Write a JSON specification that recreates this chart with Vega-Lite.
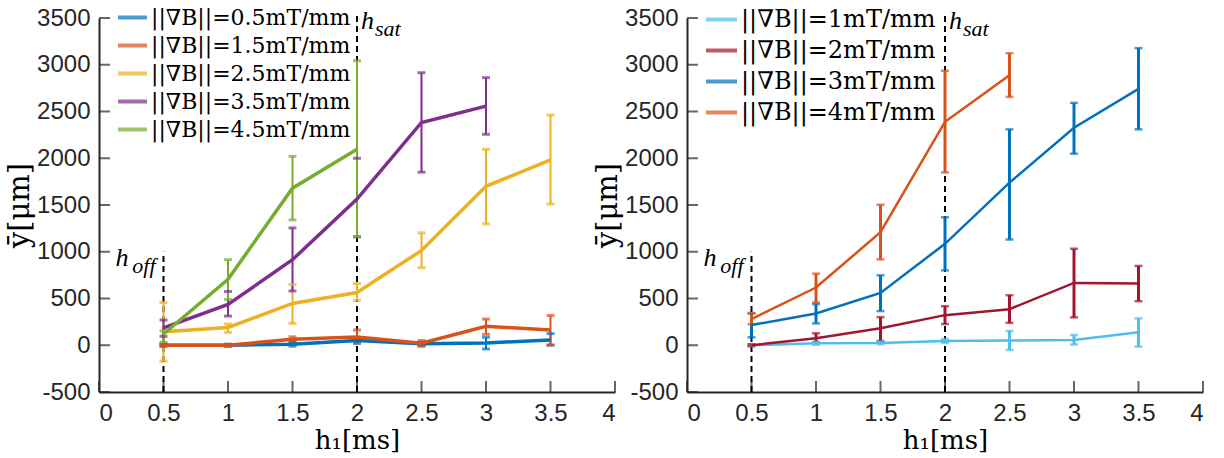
{
  "$schema": "https://vega.github.io/schema/vega-lite/v6.json",
  "padding": {"left": 5, "top": 1, "right": 5, "bottom": 5},
  "background": "white",
  "config": {
    "view": {"stroke": null},
    "axis": {
      "domainColor": "#262626", "domainWidth": 2, "tickColor": "#262626", "tickWidth": 2,
      "tickSize": 0, "labelPadding": 9, "labelFont": "Liberation Sans", "labelFontSize": 24,
      "labelColor": "#262626", "grid": false, "titleFont": "DejaVu Serif", "titleFontSize": 26,
      "titleFontWeight": "normal", "titleColor": "#000000"
    },
    "legend": {
      "orient": "none", "symbolType": "stroke", "symbolStrokeWidth": 4, "symbolSize": 841,
      "labelFont": "DejaVu Serif", "labelFontSize": 22, "labelColor": "#000000", "rowPadding": 0,
      "labelLimit": 400, "labelOffset": 2, "title": null
    }
  },
  "datasets": {
    "left": [
      {"s": "0.5", "x": 0.5, "y": 0, "lo": -10, "hi": 10},
      {"s": "0.5", "x": 1, "y": 0, "lo": -10, "hi": 10},
      {"s": "0.5", "x": 1.5, "y": 10, "lo": -10, "hi": 30},
      {"s": "0.5", "x": 2, "y": 50, "lo": 20, "hi": 80},
      {"s": "0.5", "x": 2.5, "y": 15, "lo": -5, "hi": 35},
      {"s": "0.5", "x": 3, "y": 25, "lo": -40, "hi": 85},
      {"s": "0.5", "x": 3.5, "y": 55, "lo": 0, "hi": 125},
      {"s": "1.5", "x": 0.5, "y": 0, "lo": -10, "hi": 10},
      {"s": "1.5", "x": 1, "y": 0, "lo": -10, "hi": 10},
      {"s": "1.5", "x": 1.5, "y": 64, "lo": 40, "hi": 90},
      {"s": "1.5", "x": 2, "y": 88, "lo": 25, "hi": 163},
      {"s": "1.5", "x": 2.5, "y": 21, "lo": -10, "hi": 50},
      {"s": "1.5", "x": 3, "y": 202, "lo": 117, "hi": 280},
      {"s": "1.5", "x": 3.5, "y": 163, "lo": 3, "hi": 319},
      {"s": "2.5", "x": 0.5, "y": 145, "lo": -170, "hi": 458},
      {"s": "2.5", "x": 1, "y": 190, "lo": 138, "hi": 227},
      {"s": "2.5", "x": 1.5, "y": 447, "lo": 234, "hi": 650},
      {"s": "2.5", "x": 2, "y": 564, "lo": 480, "hi": 660},
      {"s": "2.5", "x": 2.5, "y": 1014, "lo": 830, "hi": 1202},
      {"s": "2.5", "x": 3, "y": 1700, "lo": 1298, "hi": 2096},
      {"s": "2.5", "x": 3.5, "y": 1982, "lo": 1511, "hi": 2461},
      {"s": "3.5", "x": 0.5, "y": 185, "lo": 96, "hi": 270},
      {"s": "3.5", "x": 1, "y": 436, "lo": 312, "hi": 575},
      {"s": "3.5", "x": 1.5, "y": 915, "lo": 580, "hi": 1255},
      {"s": "3.5", "x": 2, "y": 1564, "lo": 1160, "hi": 2000},
      {"s": "3.5", "x": 2.5, "y": 2383, "lo": 1851, "hi": 2915},
      {"s": "3.5", "x": 3, "y": 2557, "lo": 2256, "hi": 2862},
      {"s": "4.5", "x": 0.5, "y": 120, "lo": 32, "hi": 152},
      {"s": "4.5", "x": 1, "y": 705, "lo": 490, "hi": 915},
      {"s": "4.5", "x": 1.5, "y": 1680, "lo": 1340, "hi": 2020},
      {"s": "4.5", "x": 2, "y": 2096, "lo": 1160, "hi": 3043}
    ],
    "right": [
      {"s": "1", "x": 0.5, "y": 0, "lo": -10, "hi": 10},
      {"s": "1", "x": 1, "y": 21, "lo": 5, "hi": 37},
      {"s": "1", "x": 1.5, "y": 25, "lo": 10, "hi": 40},
      {"s": "1", "x": 2, "y": 46, "lo": 25, "hi": 67},
      {"s": "1", "x": 2.5, "y": 50, "lo": -50, "hi": 152},
      {"s": "1", "x": 3, "y": 57, "lo": 7, "hi": 110},
      {"s": "1", "x": 3.5, "y": 138, "lo": -14, "hi": 287},
      {"s": "2", "x": 0.5, "y": 0, "lo": -10, "hi": 10},
      {"s": "2", "x": 1, "y": 75, "lo": 32, "hi": 128},
      {"s": "2", "x": 1.5, "y": 181, "lo": 46, "hi": 301},
      {"s": "2", "x": 2, "y": 322, "lo": 227, "hi": 418},
      {"s": "2", "x": 2.5, "y": 386, "lo": 240, "hi": 535},
      {"s": "2", "x": 3, "y": 667, "lo": 298, "hi": 1032},
      {"s": "2", "x": 3.5, "y": 660, "lo": 471, "hi": 848},
      {"s": "3", "x": 0.5, "y": 216, "lo": 85, "hi": 340},
      {"s": "3", "x": 1, "y": 340, "lo": 234, "hi": 440},
      {"s": "3", "x": 1.5, "y": 560, "lo": 365, "hi": 748},
      {"s": "3", "x": 2, "y": 1085, "lo": 801, "hi": 1369},
      {"s": "3", "x": 2.5, "y": 1740, "lo": 1131, "hi": 2309},
      {"s": "3", "x": 3, "y": 2326, "lo": 2049, "hi": 2592},
      {"s": "3", "x": 3.5, "y": 2742, "lo": 2309, "hi": 3178},
      {"s": "4", "x": 0.5, "y": 280, "lo": 225, "hi": 345},
      {"s": "4", "x": 1, "y": 617, "lo": 457, "hi": 766},
      {"s": "4", "x": 1.5, "y": 1209, "lo": 918, "hi": 1503},
      {"s": "4", "x": 2, "y": 2390, "lo": 1848, "hi": 2936},
      {"s": "4", "x": 2.5, "y": 2887, "lo": 2656, "hi": 3123}
    ],
    "vlines": [
      {"x": 0.5, "y0": -500, "y1": 1000},
      {"x": 2, "y0": -500, "y1": 3560}
    ],
    "yt": [{"v": -500}, {"v": 0}, {"v": 500}, {"v": 1000}, {"v": 1500}, {"v": 2000}, {"v": 2500}, {"v": 3000}, {"v": 3500}],
    "xt": [{"v": 0}, {"v": 0.5}, {"v": 1}, {"v": 1.5}, {"v": 2}, {"v": 2.5}, {"v": 3}, {"v": 3.5}, {"v": 4}]
  },
  "hconcat": [
    {
      "width": 516, "height": 374,
      "layer": [
        {
          "data": {"name": "yt"},
          "mark": {"type": "tick", "orient": "horizontal", "size": 11, "thickness": 2, "color": "#262626", "xOffset": 5.5},
          "encoding": {"y": {"field": "v", "type": "quantitative"}, "x": {"datum": 0, "type": "quantitative"}}
        },
        {
          "data": {"name": "xt"},
          "mark": {"type": "tick", "orient": "vertical", "size": 11, "thickness": 2, "color": "#262626", "yOffset": -5.5},
          "encoding": {"x": {"field": "v", "type": "quantitative"}, "y": {"datum": -500, "type": "quantitative"}}
        },
        {
          "data": {"name": "vlines"},
          "mark": {"type": "rule", "color": "#000000", "strokeWidth": 2, "strokeDash": [6, 4], "clip": false},
          "encoding": {
            "x": {"field": "x", "type": "quantitative"},
            "y": {"field": "y0", "type": "quantitative"},
            "y2": {"field": "y1"}
          }
        },
        {
          "data": {"name": "left"},
          "mark": {"type": "rule", "strokeWidth": 2},
          "encoding": {
            "x": {"field": "x", "type": "quantitative"},
            "y": {"field": "lo", "type": "quantitative"},
            "y2": {"field": "hi"},
            "color": {"field": "s", "type": "nominal"}
          }
        },
        {
          "data": {"name": "left"},
          "mark": {"type": "tick", "orient": "horizontal", "size": 8, "thickness": 3},
          "encoding": {
            "x": {"field": "x", "type": "quantitative"},
            "y": {"field": "lo", "type": "quantitative"},
            "color": {"field": "s", "type": "nominal"}
          }
        },
        {
          "data": {"name": "left"},
          "mark": {"type": "tick", "orient": "horizontal", "size": 8, "thickness": 3},
          "encoding": {
            "x": {"field": "x", "type": "quantitative"},
            "y": {"field": "hi", "type": "quantitative"},
            "color": {"field": "s", "type": "nominal"}
          }
        },
        {
          "data": {"name": "left"},
          "mark": {"type": "line", "strokeWidth": 3.5},
          "encoding": {
            "x": {"field": "x", "type": "quantitative", "scale": {"domain": [0, 4]},
              "axis": {"values": [0, 0.5, 1, 1.5, 2, 2.5, 3, 3.5, 4], "labelExpr": "'' + datum.value", "title": "h₁[ms]", "titlePadding": 2}},
            "y": {"field": "y", "type": "quantitative", "scale": {"domain": [-500, 3500]},
              "axis": {"values": [-500, 0, 500, 1000, 1500, 2000, 2500, 3000, 3500], "labelExpr": "'' + datum.value", "title": "ȳ[μm]", "titlePadding": 2, "titleFontSize": 29}},
            "color": {"field": "s", "type": "nominal",
              "scale": {"domain": ["0.5", "1.5", "2.5", "3.5", "4.5"], "range": ["#0072BD", "#D95319", "#EDB120", "#7E2F8E", "#77AC30"]},
              "legend": {"labelExpr": "'||∇B||=' + datum.label + 'mT/mm'", "legendX": 17, "legendY": -17}}
          }
        },
        {
          "data": {"values": [{"x": 0.5, "y": 850, "t": "h"}]},
          "mark": {"type": "text", "font": "Liberation Serif", "fontStyle": "italic", "fontSize": 26, "align": "right", "dx": -35, "baseline": "alphabetic"},
          "encoding": {"x": {"field": "x", "type": "quantitative"}, "y": {"field": "y", "type": "quantitative"}, "text": {"field": "t"}}
        },
        {
          "data": {"values": [{"x": 0.5, "y": 850, "t": "off"}]},
          "mark": {"type": "text", "font": "Liberation Serif", "fontStyle": "italic", "fontSize": 22, "align": "right", "dx": -8, "dy": 7, "baseline": "alphabetic"},
          "encoding": {"x": {"field": "x", "type": "quantitative"}, "y": {"field": "y", "type": "quantitative"}, "text": {"field": "t"}}
        },
        {
          "data": {"values": [{"x": 2, "y": 3380, "t": "h"}]},
          "mark": {"type": "text", "font": "Liberation Serif", "fontStyle": "italic", "fontSize": 26, "align": "left", "dx": 4, "baseline": "alphabetic"},
          "encoding": {"x": {"field": "x", "type": "quantitative"}, "y": {"field": "y", "type": "quantitative"}, "text": {"field": "t"}}
        },
        {
          "data": {"values": [{"x": 2, "y": 3380, "t": "sat"}]},
          "mark": {"type": "text", "font": "Liberation Serif", "fontStyle": "italic", "fontSize": 22, "align": "left", "dx": 18, "dy": 7, "baseline": "alphabetic"},
          "encoding": {"x": {"field": "x", "type": "quantitative"}, "y": {"field": "y", "type": "quantitative"}, "text": {"field": "t"}}
        }
      ]
    },
    {
      "width": 516, "height": 374,
      "layer": [
        {
          "data": {"name": "yt"},
          "mark": {"type": "tick", "orient": "horizontal", "size": 11, "thickness": 2, "color": "#262626", "xOffset": 5.5},
          "encoding": {"y": {"field": "v", "type": "quantitative"}, "x": {"datum": 0, "type": "quantitative"}}
        },
        {
          "data": {"name": "xt"},
          "mark": {"type": "tick", "orient": "vertical", "size": 11, "thickness": 2, "color": "#262626", "yOffset": -5.5},
          "encoding": {"x": {"field": "v", "type": "quantitative"}, "y": {"datum": -500, "type": "quantitative"}}
        },
        {
          "data": {"name": "vlines"},
          "mark": {"type": "rule", "color": "#000000", "strokeWidth": 2, "strokeDash": [6, 4], "clip": false},
          "encoding": {
            "x": {"field": "x", "type": "quantitative"},
            "y": {"field": "y0", "type": "quantitative"},
            "y2": {"field": "y1"}
          }
        },
        {
          "data": {"name": "right"},
          "mark": {"type": "rule", "strokeWidth": 3},
          "encoding": {
            "x": {"field": "x", "type": "quantitative"},
            "y": {"field": "lo", "type": "quantitative"},
            "y2": {"field": "hi"},
            "color": {"field": "s", "type": "nominal"}
          }
        },
        {
          "data": {"name": "right"},
          "mark": {"type": "tick", "orient": "horizontal", "size": 8, "thickness": 2.5},
          "encoding": {
            "x": {"field": "x", "type": "quantitative"},
            "y": {"field": "lo", "type": "quantitative"},
            "color": {"field": "s", "type": "nominal"}
          }
        },
        {
          "data": {"name": "right"},
          "mark": {"type": "tick", "orient": "horizontal", "size": 8, "thickness": 2.5},
          "encoding": {
            "x": {"field": "x", "type": "quantitative"},
            "y": {"field": "hi", "type": "quantitative"},
            "color": {"field": "s", "type": "nominal"}
          }
        },
        {
          "data": {"name": "right"},
          "mark": {"type": "line", "strokeWidth": 2.5},
          "encoding": {
            "x": {"field": "x", "type": "quantitative", "scale": {"domain": [0, 4]},
              "axis": {"values": [0, 0.5, 1, 1.5, 2, 2.5, 3, 3.5, 4], "labelExpr": "'' + datum.value", "title": "h₁[ms]", "titlePadding": 2}},
            "y": {"field": "y", "type": "quantitative", "scale": {"domain": [-500, 3500]},
              "axis": {"values": [-500, 0, 500, 1000, 1500, 2000, 2500, 3000, 3500], "labelExpr": "'' + datum.value", "title": "ȳ[μm]", "titlePadding": 2, "titleFontSize": 29}},
            "color": {"field": "s", "type": "nominal",
              "scale": {"domain": ["1", "2", "3", "4"], "range": ["#4DBEEE", "#A2142F", "#0072BD", "#D95319"]},
              "legend": {"labelExpr": "'||∇B||=' + datum.label + 'mT/mm'", "legendX": 17, "legendY": -16, "symbolSize": 961, "labelFontSize": 24, "rowPadding": 1}}
          }
        },
        {
          "data": {"values": [{"x": 0.5, "y": 850, "t": "h"}]},
          "mark": {"type": "text", "font": "Liberation Serif", "fontStyle": "italic", "fontSize": 26, "align": "right", "dx": -35, "baseline": "alphabetic"},
          "encoding": {"x": {"field": "x", "type": "quantitative"}, "y": {"field": "y", "type": "quantitative"}, "text": {"field": "t"}}
        },
        {
          "data": {"values": [{"x": 0.5, "y": 850, "t": "off"}]},
          "mark": {"type": "text", "font": "Liberation Serif", "fontStyle": "italic", "fontSize": 22, "align": "right", "dx": -8, "dy": 7, "baseline": "alphabetic"},
          "encoding": {"x": {"field": "x", "type": "quantitative"}, "y": {"field": "y", "type": "quantitative"}, "text": {"field": "t"}}
        },
        {
          "data": {"values": [{"x": 2, "y": 3380, "t": "h"}]},
          "mark": {"type": "text", "font": "Liberation Serif", "fontStyle": "italic", "fontSize": 26, "align": "left", "dx": 4, "baseline": "alphabetic"},
          "encoding": {"x": {"field": "x", "type": "quantitative"}, "y": {"field": "y", "type": "quantitative"}, "text": {"field": "t"}}
        },
        {
          "data": {"values": [{"x": 2, "y": 3380, "t": "sat"}]},
          "mark": {"type": "text", "font": "Liberation Serif", "fontStyle": "italic", "fontSize": 22, "align": "left", "dx": 18, "dy": 7, "baseline": "alphabetic"},
          "encoding": {"x": {"field": "x", "type": "quantitative"}, "y": {"field": "y", "type": "quantitative"}, "text": {"field": "t"}}
        }
      ]
    }
  ],
  "spacing": 72,
  "bounds": "flush",
  "resolve": {"scale": {"color": "independent"}, "legend": {"color": "independent"}}
}
